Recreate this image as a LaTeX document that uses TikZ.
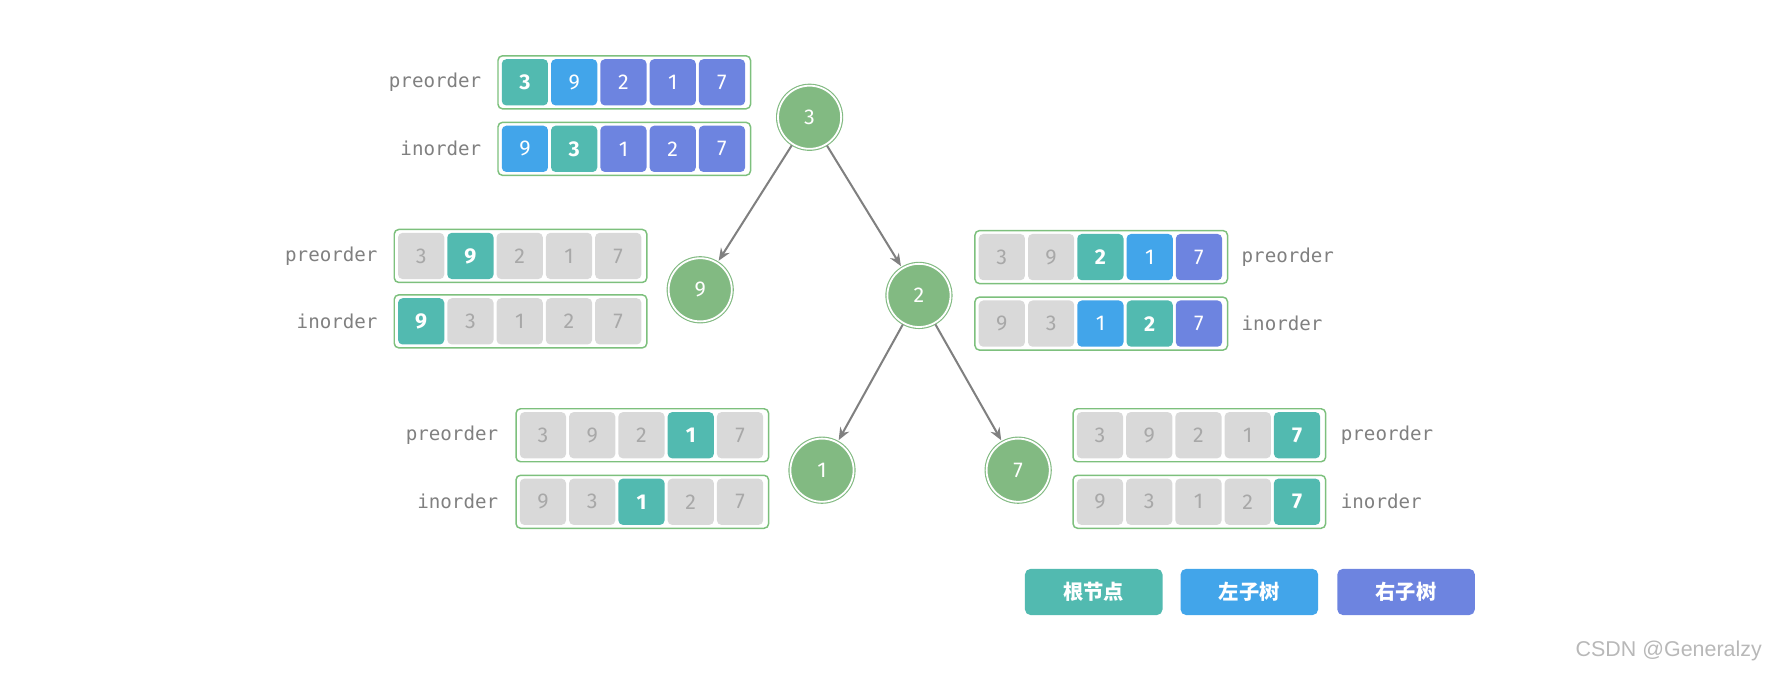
\documentclass[tikz,border=0pt]{standalone}
\usepackage{fontspec}
\setmainfont{Fira Sans}
\newfontfamily\monof{DejaVu Sans Mono}
\newfontfamily\cjk{Noto Sans CJK SC}
\usetikzlibrary{arrows.meta}
\definecolor{cRoot}{HTML}{52BAB0}
\definecolor{cLeft}{HTML}{42A5EA}
\definecolor{cRight}{HTML}{6D84E0}
\definecolor{cGray}{HTML}{D9D9D9}
\definecolor{cGrayT}{HTML}{A8A8A8}
\definecolor{cNode}{HTML}{82BA82}
\definecolor{cBox}{HTML}{7DC07D}
\definecolor{cLab}{HTML}{808080}
\tikzset{
 outerbox/.style={draw=cBox, line width=1.3pt, rounded corners=4pt, minimum width=224pt, minimum height=47pt, inner sep=0pt},
 cell/.style={rounded corners=4pt, minimum width=41pt, minimum height=41pt, inner sep=0pt, text=white, font=\fontsize{19}{20}\selectfont},
 rt/.style={fill=cRoot, font=\fontsize{19}{20}\selectfont\bfseries},
 lt/.style={fill=cLeft},
 rs/.style={fill=cRight},
 gy/.style={fill=cGray, text=cGrayT},
 lab/.style={text=cLab, font=\monof\fontsize{17}{18}\selectfont, inner sep=0pt},
 tnode/.style={circle, fill=cNode, draw=cNode, double=white, double distance=1.6pt, line width=1pt, minimum size=56pt, text=white, font=\fontsize{19}{20}\selectfont},
 edge/.style={draw=cLab, line width=1.8pt, -{Stealth[length=11pt,width=9pt]}, shorten >=2pt, shorten <=1pt},
 legend/.style={rounded corners=5pt, minimum width=122pt, minimum height=41pt, text=white, font=\cjk\bfseries\fontsize{18}{19}\selectfont}
}
\newcommand\myarr[4]{%
 \node[outerbox, anchor=west] (#1) at (#2,#3) {};
 \foreach \s/\v [count=\i] in {#4} {
  \node[cell,\s] (#1-\i) at ({#2+24.5+(\i-1)*43.7},#3) {\v};
 }
}
\begin{document}
\begin{tikzpicture}[x=1pt,y=-1pt]
\useasboundingbox (0,0) rectangle (1568,603);
% top
\myarr{p3}{441}{73}{rt/3,lt/9,rs/2,rs/1,rs/7}
\myarr{i3}{441}{132}{lt/9,rt/3,rs/1,rs/2,rs/7}
\node[lab, anchor=east] (lp3) at (427,73) {preorder};
\node[lab, anchor=east] (li3) at (427,132) {inorder};
% 9
\myarr{p9}{349}{227}{gy/3,rt/9,gy/2,gy/1,gy/7}
\myarr{i9}{349}{285}{rt/9,gy/3,gy/1,gy/2,gy/7}
\node[lab, anchor=east] (lp9) at (335,227) {preorder};
\node[lab, anchor=east] (li9) at (335,285) {inorder};
% 2
\myarr{p2}{864}{228}{gy/3,gy/9,rt/2,lt/1,rs/7}
\myarr{i2}{864}{287}{gy/9,gy/3,lt/1,rt/2,rs/7}
\node[lab, anchor=west] (lp2) at (1101,228) {preorder};
\node[lab, anchor=west] (li2) at (1101,287) {inorder};
% 1
\myarr{p1}{457}{386}{gy/3,gy/9,gy/2,rt/1,gy/7}
\myarr{i1}{457}{445}{gy/9,gy/3,rt/1,gy/2,gy/7}
\node[lab, anchor=east] (lp1) at (442,386) {preorder};
\node[lab, anchor=east] (li1) at (442,445) {inorder};
% 7
\myarr{p7}{951}{386}{gy/3,gy/9,gy/2,gy/1,rt/7}
\myarr{i7}{951}{445}{gy/9,gy/3,gy/1,gy/2,rt/7}
\node[lab, anchor=west] (lp7) at (1189,386) {preorder};
\node[lab, anchor=west] (li7) at (1189,445) {inorder};
% tree
\node[tnode] (n3) at (718,104) {3};
\node[tnode] (n9) at (621,257) {9};
\node[tnode] (n2) at (815,262) {2};
\node[tnode] (n1) at (729,417) {1};
\node[tnode] (n7) at (903,417) {7};
\draw[edge] (n3) -- (n9);
\draw[edge] (n3) -- (n2);
\draw[edge] (n2) -- (n1);
\draw[edge] (n2) -- (n7);
% legend
\node[legend, fill=cRoot] (g1) at (970,525) {根节点};
\node[legend, fill=cLeft] (g2) at (1108,525) {左子树};
\node[legend, fill=cRight] (g3) at (1247,525) {右子树};
\node[anchor=east, text=cGray!85!black, font=\fontfamily{Liberation Sans}\fontsize{19}{20}\selectfont] (wm) at (1566,577) {\fontspec{Liberation Sans}CSDN @Generalzy};
\end{tikzpicture}
\end{document}
